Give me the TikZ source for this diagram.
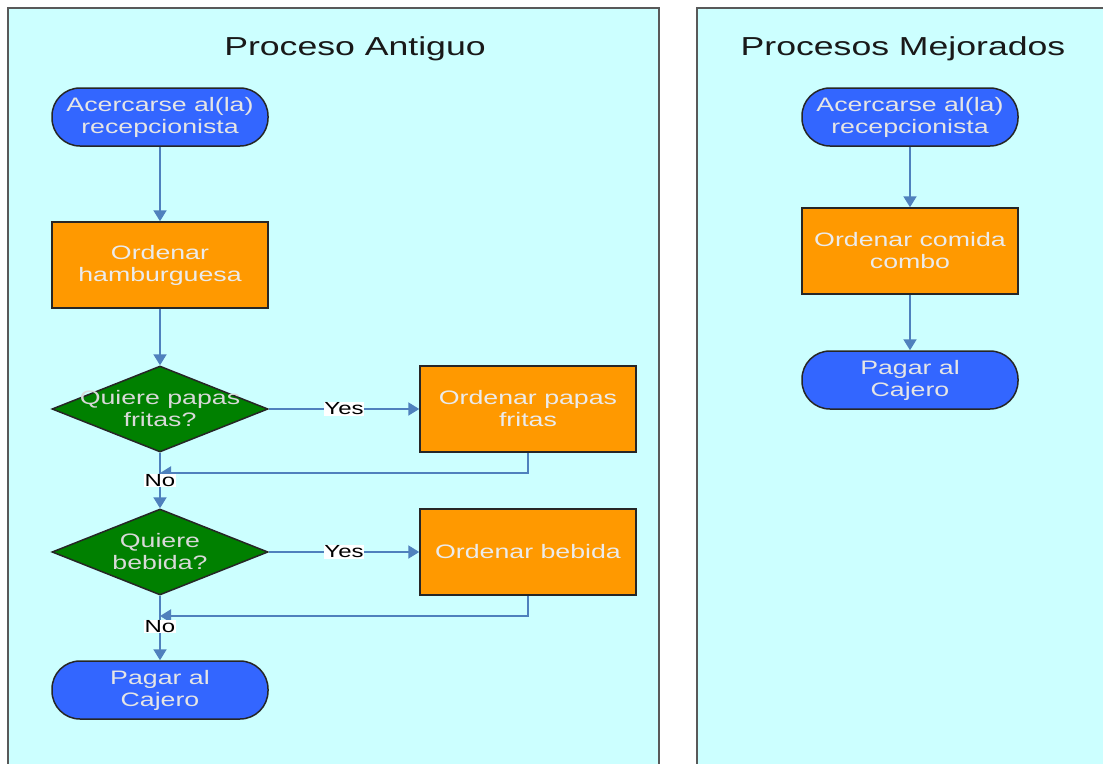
\documentclass[tikz,border=0pt]{standalone}
\usepackage{fontspec}
\setmainfont{Liberation Sans}[FakeStretch=1.37]
\usepackage{xcolor}
\usetikzlibrary{shapes.geometric, arrows.meta, positioning, calc}

\definecolor{fondo}{RGB}{204,255,255}
\definecolor{azul}{RGB}{51,102,255}
\definecolor{naranja}{RGB}{255,153,0}
\definecolor{verde}{RGB}{0,128,0}
\definecolor{flecha}{RGB}{79,129,189}

\newcommand{\titlefont}{\fontsize{26}{30}\selectfont}
\newcommand{\boxfont}{\fontsize{19.5}{22}\selectfont}
\newcommand{\lblfont}{\fontsize{17.5}{20}\selectfont}

\tikzset{
  panel/.style={draw=black!65, line width=2.2pt, fill=fondo},
  titulo/.style={font=\titlefont, text=black!90},
  terminal/.style={draw=black!85, line width=1.5pt, fill=azul, rounded corners=28pt,
    minimum width=216pt, minimum height=58pt, inner sep=0pt,
    text=white!90!black, align=center, font=\boxfont},
  proceso/.style={draw=black!85, line width=1.5pt, fill=naranja,
    minimum width=216pt, minimum height=86pt, inner sep=0pt,
    text=white!92!black, align=center, font=\boxfont},
  decision/.style={diamond, draw=black!85, line width=1.5pt, fill=verde,
    minimum width=216pt, minimum height=86pt, inner sep=0pt},
  dtexto/.style={text=white!85!black, align=center, font=\boxfont},
  flujo/.style={draw=flecha, line width=2pt, -{Triangle[length=11pt,width=13pt]}},
  etiqueta/.style={fill=white, text=black, inner sep=0.5pt, font=\lblfont}
}

\begin{document}
\begin{tikzpicture}[x=1pt,y=-1pt]
\useasboundingbox (0,0) rectangle (1103,763);

\filldraw[panel] (8,8) rectangle (659,775);
\filldraw[panel] (697,8) rectangle (1115,775);

\node[titulo] (tAntiguo) at (355,49) {Proceso Antiguo};
\node[titulo] (tMejorado) at (903,49) {Procesos Mejorados};

% proceso antiguo
\node[terminal] (inicioA) at (160,117) {Acercarse al(la)\\recepcionista};
\node[proceso] (hamburguesa) at (160,265) {Ordenar\\hamburguesa};
\node[decision] (papasQ) at (160,409) {};
\node[dtexto] (papasT) at (160,409) {Quiere papas\\fritas?};
\node[proceso] (papas) at (528,409) {Ordenar papas\\fritas};
\node[decision] (bebidaQ) at (160,552) {};
\node[dtexto] (bebidaT) at (160,552) {Quiere\\bebida?};
\node[proceso] (bebida) at (528,552) {Ordenar bebida};
\node[terminal] (pagarA) at (160,690) {Pagar al\\Cajero};
\coordinate (union1) at (160,473);
\coordinate (union2) at (160,616);

\draw[flujo] (inicioA) -- (hamburguesa);
\draw[flujo] (hamburguesa) -- (papasQ);
\draw[flujo] (papasQ.east) -- node[etiqueta] {Yes} (papas.west);
\draw[flujo] (papas.south) |- (union1);
\draw[flujo] (papasQ.south) -- node[etiqueta] {No} (bebidaQ.north);
\draw[flujo] (bebidaQ.east) -- node[etiqueta] {Yes} (bebida.west);
\draw[flujo] (bebida.south) |- (union2);
\draw[flujo] (bebidaQ.south) -- node[etiqueta, pos=0.48] {No} (pagarA.north);

% procesos mejorados
\node[terminal] (inicioM) at (910,117) {Acercarse al(la)\\recepcionista};
\node[proceso] (combo) at (910,251) {Ordenar comida\\combo};
\node[terminal] (pagarM) at (910,380) {Pagar al\\Cajero};

\draw[flujo] (inicioM) -- (combo);
\draw[flujo] (combo) -- (pagarM);
\end{tikzpicture}
\end{document}
